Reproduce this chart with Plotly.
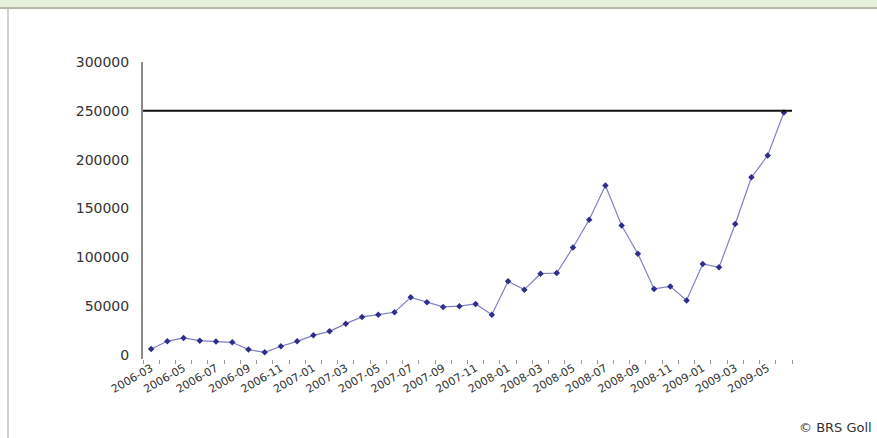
import plotly.graph_objects as go

# Monthly counts, March 2006 to June 2009
months = [
    "2006-03", "2006-04", "2006-05", "2006-06", "2006-07", "2006-08", "2006-09", "2006-10",
    "2006-11", "2006-12", "2007-01", "2007-02", "2007-03", "2007-04", "2007-05", "2007-06",
    "2007-07", "2007-08", "2007-09", "2007-10", "2007-11", "2007-12", "2008-01", "2008-02",
    "2008-03", "2008-04", "2008-05", "2008-06", "2008-07", "2008-08", "2008-09", "2008-10",
    "2008-11", "2008-12", "2009-01", "2009-02", "2009-03", "2009-04", "2009-05", "2009-06",
]
values = [
    6300, 14100, 17600, 14800, 13800, 13100, 5600, 2900,
    9000, 14100, 20200, 24300, 32200, 39100, 41400, 43800,
    59100, 54000, 49300, 50100, 52400, 41400, 75500, 67000,
    83300, 84000, 110200, 138500, 173600, 132700, 103800, 67700,
    70300, 56000, 93300, 89800, 134200, 182000, 204300, 248300,
]
reference_level = 250000
y_ticks = [0, 50000, 100000, 150000, 200000, 250000, 300000]

# every second month gets a label, every month gets a tick
tick_text = [m if i % 2 == 0 else "" for i, m in enumerate(months)]

W, H = 877, 438
ML, MR, MT, MB = 143, 85, 62, 79
PW, PH = W - ML - MR, H - MT - MB


def px_x(px):
    return (px - ML) / PW


def px_y(py):
    return (H - MB - py) / PH


fig = go.Figure()
fig.add_trace(go.Scatter(
    x=months,
    y=values,
    mode="lines+markers",
    line=dict(color="#7f7fc4", width=1.2),
    marker=dict(symbol="diamond", size=5, color="#2e2e8c"),
    showlegend=False,
    hoverinfo="x+y",
))

shapes = [
    # horizontal reference line
    dict(type="line", xref="paper", yref="y", x0=0, x1=1,
         y0=reference_level, y1=reference_level,
         line=dict(color="#111111", width=2)),
    # page header band and frame
    dict(type="rect", xref="paper", yref="paper", x0=px_x(0), x1=px_x(W),
         y0=px_y(0), y1=px_y(7), fillcolor="#e7f0da", line=dict(width=0), layer="below"),
    dict(type="line", xref="paper", yref="paper", x0=px_x(0), x1=px_x(W),
         y0=px_y(8), y1=px_y(8), line=dict(color="#b8b5ab", width=2)),
    dict(type="line", xref="paper", yref="paper", x0=px_x(8), x1=px_x(8),
         y0=px_y(9), y1=px_y(H), line=dict(color="#cfcfcf", width=2)),
]

fig.update_layout(
    width=W,
    height=H,
    margin=dict(l=ML, r=MR, t=MT, b=MB, pad=0),
    paper_bgcolor="white",
    plot_bgcolor="white",
    shapes=shapes,
    font=dict(family="DejaVu Sans", color="#333333"),
    xaxis=dict(
        type="category",
        categoryorder="array",
        categoryarray=months,
        range=[-0.5, len(months) - 0.5],
        tickmode="array",
        tickvals=months,
        ticktext=tick_text,
        tickson="boundaries",
        ticks="outside",
        ticklen=4,
        tickwidth=1,
        tickcolor="#999999",
        tickangle=-30,
        tickfont=dict(size=11, color="#333333"),
        showline=False,
        showgrid=False,
        zeroline=False,
    ),
    yaxis=dict(
        range=[-4000, 300000],
        tickmode="array",
        tickvals=y_ticks,
        tickformat="d",
        ticks="",
        ticklabelstandoff=9,
        tickfont=dict(size=14, color="#333333"),
        showline=True,
        linecolor="#8c8c8c",
        linewidth=2,
        showgrid=False,
        zeroline=False,
    ),
    annotations=[
        dict(text="© BRS Goll", xref="paper", yref="paper",
             x=px_x(874), y=px_y(427), xanchor="right", yanchor="middle",
             showarrow=False, font=dict(size=13, color="#333333")),
    ],
)

fig.write_html("out.html")
